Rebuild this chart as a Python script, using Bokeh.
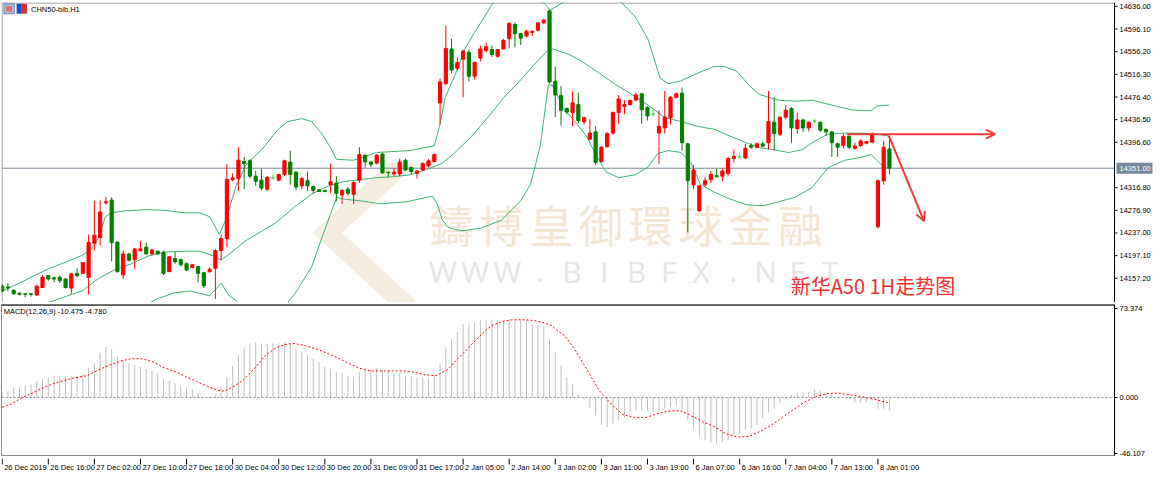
from bokeh.plotting import figure
from bokeh.models import (ColumnDataSource, Range1d, FixedTicker, PrintfTickFormatter,
                          Span, Arrow, OpenHead, LinearAxis)
from bokeh.layouts import column
from bokeh.core.properties import value
from bokeh.embed import file_html
from bokeh.resources import INLINE

# ---------------- data ----------------
symbol_title = "CHN50-bib,H1"
macd_title = "MACD(12,26,9) -10.475 -4.780"
note_text = "新华A50 1H走势图"
wm_cn = "鑄博皇御環球金融"
wm_en = "WWW.BIBFX.NET"

opens = [14143.5,14142,14136,14131,14130,14130,14128,14141,14162,14158,
14159,14156,14140,14166,14166,14159,14219,14229,14290,14295,
14221,14163,14200,14190,14206,14212,14200,14205,14203,14169,
14192,14190,14183,14176,14178,14167,14169,14175,14206,14227,
14331,14333,14363,14364,14337,14330,14314,14334,14330,14340,
14362,14344,14320,14329,14319,14313,14312,14322,14325,14304,
14314,14305,14330,14374,14362,14360,14376,14344,14341,14341,
14365,14352,14342,14348,14355,14363,14466,14500,14561,14527,
14543,14555,14513,14545,14558,14560,14548,14561,14579,14604,
14588,14584,14590,14594,14607,14628,14504,14479,14456,14449,
14463,14433,14402,14415,14363,14389,14413,14449,14460,14463,
14471,14482,14458,14446,14413,14422,14440,14476,14483,14394,
14322,14276,14322,14331,14338,14337,14342,14368,14371,14369,
14391,14388,14394,14396,14432,14411,14441,14456,14421,14436,
14422,14434,14432,14419,14415,14394,14391,14407,14386,14391,
14395,14397,14248,14329,14385]

highs = [14146.9,14149,14138,14132,14131,14131,14146,14163,14163,14160,
14162,14157,14167,14175,14186,14234,14294,14294,14300,14300,
14222,14206,14202,14210,14223,14220,14209,14206,14206,14196,
14204,14192,14185,14182,14179,14168,14176,14209,14234,14358,
14342,14388,14371,14367,14346,14350,14337,14340,14341,14366,
14382,14346,14336,14345,14320,14314,14313,14359,14337,14314,
14318,14328,14388,14375,14363,14376,14378,14345,14351,14368,
14368,14354,14348,14361,14367,14377,14509,14602,14579,14546,
14560,14560,14539,14567,14572,14567,14561,14579,14608,14608,
14589,14595,14594,14608,14614,14629,14530,14496,14458,14486,
14484,14442,14437,14425,14390,14414,14451,14480,14471,14472,
14484,14483,14460,14453,14453,14487,14478,14484,14493,14396,
14357,14321,14335,14346,14350,14351,14371,14384,14378,14394,
14395,14396,14398,14487,14476,14442,14462,14459,14449,14438,
14433,14438,14433,14421,14416,14396,14412,14409,14396,14402,
14399,14414,14331,14399,14408]

lows = [14131.6,14135,14128,14127,14124,14125,14126,14140,14153,14150,
14149,14139,14130,14159,14165,14129,14206,14215,14287,14187,
14167,14156,14187,14174,14204,14200,14199,14199,14163,14168,
14183,14178,14170,14175,14150,14140,14167,14121,14189,14212,
14328,14311,14314,14333,14320,14312,14311,14331,14328,14337,
14322,14313,14314,14311,14307,14309,14309,14307,14293,14288,
14303,14288,14325,14352,14353,14358,14341,14335,14338,14337,
14346,14340,14333,14346,14352,14361,14428,14497,14518,14523,
14476,14504,14507,14539,14555,14547,14546,14560,14562,14564,
14568,14581,14584,14592,14605,14500,14441,14426,14446,14425,
14430,14428,14400,14357,14361,14387,14410,14429,14446,14462,
14469,14429,14435,14442,14359,14412,14428,14474,14382,14238,
14314,14274,14318,14325,14335,14328,14338,14361,14368,14367,
14385,14386,14388,14384,14382,14408,14437,14396,14412,14415,
14416,14430,14415,14408,14371,14371,14386,14385,14384,14388,
14393,14395,14245,14322,14340]

closes = [14135,14140,14130,14129,14129,14129,14143,14159,14156,14156,
14153,14141,14165,14162,14185,14220,14233,14274,14292,14220,
14169,14200,14189,14209,14209,14200,14207,14200,14166,14195,
14186,14181,14172,14181,14166,14144,14173,14206,14227,14331,
14334,14365,14359,14337,14328,14316,14335,14334,14340,14364,
14340,14318,14333,14320,14312,14310,14310,14327,14307,14312,
14307,14326,14375,14362,14358,14374,14343,14343,14344,14362,
14348,14345,14346,14359,14364,14375,14503,14562,14524,14537,
14557,14513,14537,14561,14565,14551,14560,14576,14606,14588,
14580,14592,14592,14607,14612,14503,14480,14453,14450,14466,
14435,14440,14413,14361,14388,14412,14449,14473,14463,14470,
14480,14454,14443,14446,14425,14441,14476,14482,14396,14329,
14348,14320,14329,14340,14336,14346,14368,14372,14371,14386,
14388,14394,14390,14433,14412,14441,14453,14422,14436,14422,
14432,14434,14418,14415,14396,14388,14407,14388,14390,14399,
14398,14411,14329,14388,14351]

bb_up_bar = [0,3.1,5.3,8.2,11.1,13.85,15.55,16.75,17.9,19.0,
21.3,25.3,28.2,31.6,34.3,36.0,37.7,38.9,40.6,42.3,
45.2,47.9,49.6,52.0,53.7,55.4,57.1,58.0,61.0,65.0,
70.8,75.0,75.9,76.9,78.6,80.3,82.0,84.4,85.2,90.0,
95.1,97.3,102.4,107.5,109.9,112.1,113.3,114.2,115.6,117.8,
120.7,123.6,125.3,127.5,129.7,131.4,134.8,137.7,140.6,144.0,
147.4,150.8,151.8,154]
bb_up_val = [14135.0,14149.1,14160.6,14174.7,14186.1,14197.5,14208.8,14228.7,14265.7,14272.5,
14275.9,14278.1,14276.9,14272.5,14272.5,14265.7,14234.3,14262.8,14319.5,14356.5,
14385.5,14419.6,14433.2,14438.3,14433.2,14412.8,14385.5,14366.7,14365.0,14378.7,
14382.1,14390.6,14424.7,14475.8,14515.0,14561.0,14590.0,14629.2,14642.8,14688.8,
14629.2,14642.8,14671.8,14642.8,14617.2,14578.0,14538.9,14509.9,14499.7,14504.8,
14518.4,14530.3,14530.3,14521.8,14496.3,14480.9,14470.7,14469.0,14470.7,14462.2,
14453.6,14451.9,14460.5,14462.2]

bb_mid_bar = [0,6.5,13.85,16.75,19.6,22.4,25.3,28.2,31.6,34.3,
36.7,38.0,39.4,42.3,47.4,50.8,53.7,56.4,59.3,62.2,
65.0,67.9,70.8,73.5,76.4,78.6,81.5,84.4,87.1,90.0,
92.2,94.6,95.6,98.5,100.7,103.6,106.5,109.3,112.1,115.0,
117.8,120.7,123.6,126.3,129.2,131.4,133.8,136.5,138.9,141.1,
143.3,146.2,149.1,151.8,154]
bb_mid_val = [14092.4,14109.4,14135.0,14157.2,14172.5,14182.7,14196.3,14203.2,14204.9,14204.9,
14196.3,14189.5,14199.7,14223.6,14254.3,14283.2,14305.4,14319.0,14327.6,14330.9,
14334.4,14336.1,14339.5,14348.0,14359.9,14378.7,14407.6,14441.7,14475.8,14506.5,
14532.0,14557.6,14561.0,14550.8,14538.9,14518.4,14498.0,14480.9,14462.2,14440.0,
14433.2,14424.7,14419.6,14407.6,14395.7,14387.2,14383.8,14378.7,14383.8,14399.1,
14411.0,14412.8,14412.8,14411.0,14407.6]

bb_low_bar = [0,10,20,27.0,29.9,32.6,36.0,38.0,39.4,40.6,
42.3,45.2,47.9,50.8,53.7,56.4,58.1,59.0,62.2,65.6,
70.1,74.7,75.5,76.4,77.6,79.8,83.2,86.6,90.0,91.7,
93.4,94.8,95.6,97.3,99.7,101.4,103.1,104.8,107.0,109.9,
112.1,113.8,115.6,117.8,119.5,121.2,123.6,126.3,129.2,132.1,
134.8,137.7,140.6,143.3,146.2,149.1,150.8,151.8,153.0,154]
bb_low_val = [14050,14070,14085,14121.4,14131.6,14135.0,14126.5,14148.6,14126.5,14118.0,
14090,14104,14094,14130,14177,14254.3,14300.3,14296.9,14293.5,14288.4,
14291.8,14302.0,14288.4,14259.4,14245.8,14240.6,14245.8,14259.4,14293.5,14322.4,
14390.6,14497.9,14496.2,14458.8,14429.8,14407.6,14373.6,14344.6,14334.4,14339.5,
14353.1,14377.0,14382.1,14378.7,14361.6,14322.4,14308.8,14296.9,14286.7,14285.0,
14291.8,14300.3,14317.3,14351.4,14365.0,14370.2,14375.3,14365.0,14353.1,14349.7]

macd_hist = [4,5.3,8,8.5,10.1,10.7,13.3,15.5,16.5,17.9,
17.9,17.3,17.9,18.1,20,24.5,28.5,36.8,41.9,40,
34.1,30.7,28,26.7,25.3,23.5,21.9,20,15.5,13.9,
11.7,10.1,8,6.7,3.5,0.5,0.8,2.7,9.3,16.8,
25.9,34.7,41.3,44.5,45.3,44.5,44.5,44.5,44.5,45.3,
44,40.5,37.9,35.2,32,29.3,25.3,24,21.3,20,
17.9,17.3,20.8,22.7,23.5,24,23.2,22.1,20,20,
18.1,17.3,16,16,16,18.7,28,41.3,48,54.1,
60.5,60.5,61.9,64,64,64,63.5,62.7,64.8,63.5,
63.5,62.7,60.5,60,58.7,48,37.3,26.7,16.8,11.2,
3.2,-1.3,-8.5,-14.7,-22.7,-24.5,-21.3,-18.7,-16,-12,
-10.1,-10.7,-10.7,-12,-10.7,-9.3,-8,-6.7,-10.1,-18.7,
-25.3,-32,-35.2,-37.3,-37.9,-36.8,-34.7,-30.7,-29.9,-26.1,
-25.3,-22.7,-17.3,-12,-9.3,-4.8,-1.3,2.1,4,4.3,
4.8,6.4,5.9,4.5,2.7,1.1,-0.5,-1,-4,-4,
-4,-2.7,-9.3,-9.3,-10.475]

signal_bar = [0,1.6,3.5,5.4,7.3,9.2,12.3,14.8,16.7,18.6,
20.5,22.4,24.3,26.2,28.1,30,31.8,33.7,35.6,37.5,
38.5,40,41.9,43.8,45.7,47.6,49.5,50.7,52.6,54.5,
56.4,58.3,60.2,62.1,64,65.9,67.8,69.7,71.5,73.4,
75.3,77.2,79.1,81,82.9,84.8,86.7,88.6,90.4,92.3,
94.2,95.4,96.1,97.7,99.7,101.7,103.7,104.7,105.7,107.7,
109.7,111.7,113.7,115.6,117.6,118.9,121.6,123.6,125.6,127.6,
129.5,131.5,133.5,135.5,137.5,139.5,141.5,143.5,145.4,147.4,
149.4,151.4,154]
signal_val = [-8,-5.3,0,4,8.5,12,16,18.1,22.7,26.7,
29.9,32,32,29.3,24.5,21.3,17.3,13.3,9.3,5.9,
5.3,8.5,14.7,24,34.7,41.3,44,44.5,42.7,40,
36.5,32.5,28,24,21.9,21.9,21.9,21.9,20.8,18.7,
17.9,22.7,32,41.3,50.7,58.7,62.7,64,64,63.5,
61.3,59.2,56,50.7,37.3,21.3,5.3,0,-5.3,-13.9,
-16.5,-16.5,-13.3,-11.2,-10.7,-13.3,-20,-24,-29.9,-32.5,
-32,-28,-22.7,-16,-9.3,-3.2,1.3,3.5,3.5,2.1,
0.5,-1.3,-4.78]

time_labels = ["26 Dec 2019", "26 Dec 16:00", "27 Dec 02:00", "27 Dec 10:00", "27 Dec 18:00",
               "30 Dec 04:00", "30 Dec 12:00", "30 Dec 20:00", "31 Dec 09:00", "31 Dec 17:00",
               "2 Jan 05:00", "2 Jan 14:00", "3 Jan 02:00", "3 Jan 11:00", "3 Jan 19:00",
               "6 Jan 07:00", "6 Jan 16:00", "7 Jan 04:00", "7 Jan 13:00", "8 Jan 01:00"]
price_ticks = [14636.00, 14596.10, 14556.20, 14516.30, 14476.40, 14436.50, 14396.60,
               14316.80, 14276.90, 14237.00, 14197.10, 14157.20]
macd_ticks = [73.374, 0.0, -46.107]
bid_price = 14351.00

# hand-drawn trend arrows (bar index, price)
arrow_h = (146.6, 14411, 172.3, 14411)
arrow_d = (153.9, 14408, 160.0, 14258)

# ---------------- styling / geometry ----------------
FONT = "Liberation Sans"
BULL, BEAR, DOJI = "#FF0000", "#008000", "#3FE03F"
BAND = "#3CB371"
BORDER = "#8a8a8a"
FRAME_W = 1113          # chart area width (px)
RB = 40                 # right axis strip (px)
X0, AXIS_X = -0.12, 193.06
PXB = FRAME_W / (AXIS_X - X0)        # px per bar
Y_LO, Y_HI = 14114.6, 14642.8
MAIN_H = 300
PXP = MAIN_H / (Y_HI - Y_LO)         # px per price point


def plain_fig(fw, fh, xr, yr, top, bottom, right):
    f = figure(frame_width=fw, frame_height=fh, x_range=xr, y_range=yr,
               x_axis_location=None, y_axis_location=None,
               output_backend="svg", toolbar_location=None,
               min_border_left=1, min_border_right=right,
               min_border_top=top, min_border_bottom=bottom,
               background_fill_color="white", border_fill_color="white")
    f.xgrid.visible = False
    f.ygrid.visible = False
    return f


# ---------------- main price panel (axis drawn inside an extended frame) ----------------
main = plain_fig(FRAME_W + RB, MAIN_H, Range1d(X0, X0 + (FRAME_W + RB) / PXB),
                 Range1d(Y_LO, Y_HI), 2, 0, 0)
main.outline_line_color = None

# watermark logo + texts
logo_bar = [67.0, 72.1, 59.0, 72.1, 67.0, 53.9]
logo_px = [14359.9, 14359.9, 14237.2, 14114.6, 14114.6, 14237.2]
main.patch(logo_bar, logo_px, fill_color="#F6EDE1", line_color=None)
cn_x = [74.16 + i * 8.65 for i in range(len(wm_cn))]
main.text(x=cn_x, y=[14252.6] * len(wm_cn), text=list(wm_cn),
          text_font=value("Noto Sans CJK TC"), text_font_size="44px",
          text_color="#F3E6D5", text_align="left", text_baseline="middle")
en_x = [76.5 + i * 5.6 for i in range(len(wm_en))]
main.text(x=en_x, y=[14169.0] * len(wm_en), text=list(wm_en),
          text_font=value("Open Sans"), text_font_size="30px",
          text_color="#E5E5E5", text_align="center", text_baseline="middle")

# frame borders (left, top) and the price axis line
main.segment(x0=[X0 + 0.5 / PXB, X0], y0=[Y_LO, Y_HI - 0.5 / PXP],
             x1=[X0 + 0.5 / PXB, AXIS_X], y1=[Y_HI, Y_HI - 0.5 / PXP],
             line_color=BORDER, line_width=1)
main.segment(x0=[AXIS_X], y0=[Y_LO], x1=[AXIS_X], y1=[Y_HI], line_color="black", line_width=1)

# bid line
main.segment(x0=[X0], y0=[bid_price], x1=[AXIS_X], y1=[bid_price],
             line_color="#778899", line_width=1)

# Bollinger bands
main.line(bb_up_bar, bb_up_val, line_color=BAND, line_width=1)
main.line(bb_mid_bar, bb_mid_val, line_color=BAND, line_width=1)
main.line(bb_low_bar, bb_low_val, line_color=BAND, line_width=1)

# candles
idx = list(range(len(opens)))
cols = [BULL if c > o else (BEAR if c < o else DOJI) for o, c in zip(opens, closes)]
src = ColumnDataSource(dict(x=idx, h=highs, l=lows,
                            top=[max(o, c) for o, c in zip(opens, closes)],
                            bottom=[min(o, c) for o, c in zip(opens, closes)],
                            color=cols))
main.segment(x0="x", y0="l", x1="x", y1="h", source=src, line_color="color", line_width=1)
main.vbar(x="x", width=0.55, top="top", bottom="bottom", source=src,
          fill_color="color", line_color="color", line_width=1)

# title + icons
main.quad(left=[0.3], right=[2.1], top=[14640.5], bottom=[14623.0],
          fill_color="#A9BEDF", line_color="#6F86B0")
main.quad(left=[0.7], right=[1.7], top=[14636.0], bottom=[14627.0],
          fill_color="#E56A6A", line_color=None)
main.quad(left=[2.5], right=[3.4], top=[14640.5], bottom=[14623.0],
          fill_color="#2448C8", line_color=None)
main.quad(left=[3.4], right=[4.3], top=[14640.5], bottom=[14623.0],
          fill_color="#D83030", line_color=None)
main.text(x=[5.0], y=[14631.0], text=[symbol_title], text_font=value(FONT),
          text_font_size="7.5px", text_color="black", text_align="left", text_baseline="middle")

# annotation text and arrows
main.text(x=[136.85], y=[14145.0], text=[note_text], text_font=value("Noto Sans CJK SC"),
          text_font_size="20px", text_color="#F03030", text_align="left", text_baseline="middle")
for (xs, ys, xe, ye) in (arrow_h, arrow_d):
    main.add_layout(Arrow(end=OpenHead(size=9, line_color="#F03A3A", line_width=2),
                          x_start=xs, y_start=ys, x_end=xe, y_end=ye,
                          line_color="#F03A3A", line_width=2))

# price axis ticks + labels
n_t = len(price_ticks)
main.segment(x0=[AXIS_X] * n_t, y0=price_ticks, x1=[AXIS_X + 3 / PXB] * n_t, y1=price_ticks,
             line_color="black", line_width=1)
main.text(x=[AXIS_X] * n_t, y=price_ticks, text=["%.2f" % t for t in price_ticks], x_offset=5,
          text_font=value(FONT), text_font_size="7.5px", text_color="black",
          text_align="left", text_baseline="middle")

# bid price tag
main.quad(left=[AXIS_X + 2 / PXB], right=[AXIS_X + 38 / PXB],
          top=[bid_price + 5.5 / PXP], bottom=[bid_price - 5.5 / PXP],
          fill_color="#778899", line_color=None)
main.text(x=[AXIS_X], y=[bid_price], text=["%.2f" % bid_price], x_offset=5,
          text_font=value(FONT), text_font_size="7.5px", text_color="white",
          text_align="left", text_baseline="middle")

# ---------------- MACD panel ----------------
xr_low = Range1d(X0, AXIS_X)
macd = plain_fig(FRAME_W, 151, xr_low, Range1d(-47.71, 76.58), 2, 3, RB)
macd.outline_line_color = BORDER
ax = LinearAxis(ticker=FixedTicker(ticks=macd_ticks), formatter=PrintfTickFormatter(format="%.3f"))
ax.axis_line_color = "black"
ax.major_tick_line_color = "black"
ax.minor_tick_line_color = None
ax.major_tick_out = 3
ax.major_tick_in = 0
ax.major_label_standoff = 2
ax.major_label_text_font = FONT
ax.major_label_text_font_size = "7.5px"
ax.major_label_text_color = "black"
macd.add_layout(ax, "right")
macd.add_layout(Span(location=76.58, dimension="width", line_color="#5c5c5c", line_width=3))
macd.segment(x0=idx, y0=[0] * len(idx), x1=idx, y1=macd_hist,
             line_color="#BEBEBE", line_width=1)
macd.add_layout(Span(location=0, dimension="width", line_color="#7B8AA5",
                     line_dash="2 2", line_width=1))
macd.line(signal_bar, signal_val, line_color="#FF0000", line_dash="2 2", line_width=1)
macd.text(x=[0.25], y=[71.0], text=[macd_title], text_font=value(FONT),
          text_font_size="7.5px", text_color="black", text_align="left", text_baseline="middle")

# ---------------- time axis strip ----------------
strip = plain_fig(FRAME_W, 17, xr_low, Range1d(0, 17), 0, 0, RB)
strip.outline_line_color = None
tick_bars = [8 * i for i in range(len(time_labels))]
strip.segment(x0=tick_bars, y0=[17] * len(tick_bars), x1=tick_bars, y1=[11] * len(tick_bars),
              line_color="black", line_width=1)
strip.text(x=tick_bars, y=[8.5] * len(tick_bars), text=time_labels, x_offset=2,
           text_font=value(FONT), text_font_size="7.5px", text_color="black",
           text_align="left", text_baseline="middle")

layout = column(main, macd, strip)
open("out.html", "w").write(file_html(layout, INLINE, title="CHN50-bib,H1"))
